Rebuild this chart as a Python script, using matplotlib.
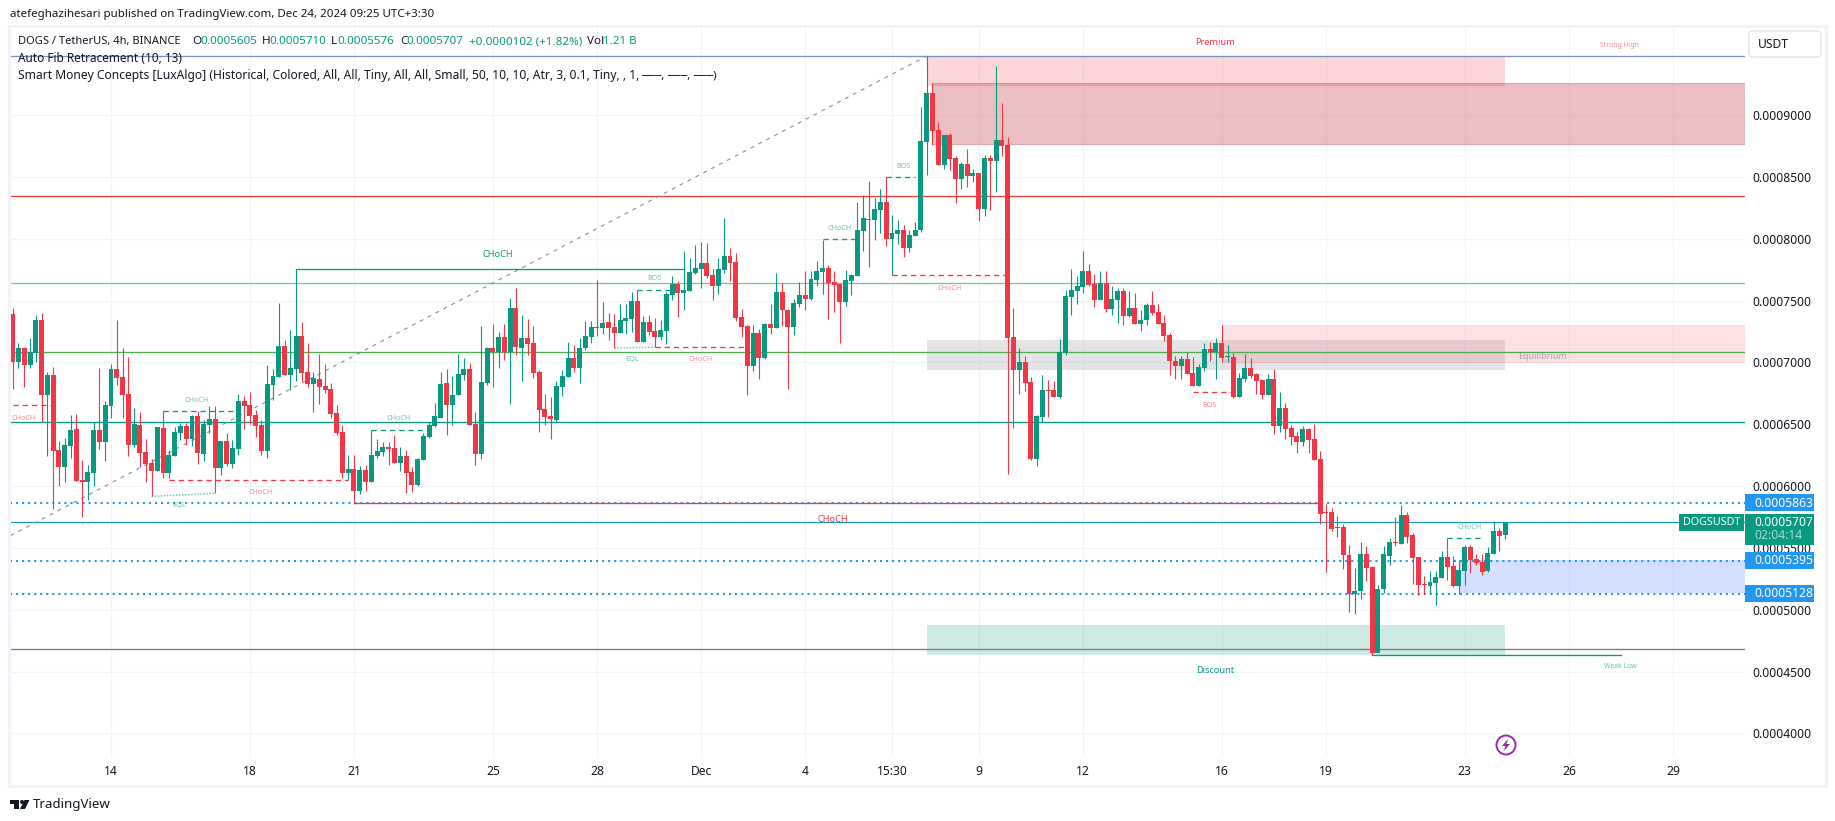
import matplotlib
matplotlib.use('Agg')
import matplotlib.pyplot as plt
from matplotlib.patches import Rectangle, Circle, FancyBboxPatch, Polygon
import numpy as np

plt.rcParams['font.family'] = ['Noto Sans', 'DejaVu Sans']

# candles, prices in units of 1e-7 USDT
opens = [7391,7002,7116,6979,7079,7343,6736,6898,6292,6154,
         6324,6461,6049,6033,6106,6453,6356,6647,6947,6882,
         6744,6332,6494,6276,6187,6122,6470,6106,6243,6429,
         6486,6381,6567,6259,6494,6542,6146,6364,6179,6300,
         6688,6656,6575,6494,6284,6817,6882,7133,6898,6947,
         7213,6922,6825,6866,6809,6785,6591,6437,6106,6138,
         5960,6130,6033,6243,6276,6316,6308,6187,6243,6114,
         6009,6211,6397,6486,6550,6833,6656,6737,6898,6947,
         6502,6260,6834,7117,7084,7206,7084,7440,7117,7197,
         7157,6923,6623,6567,6534,6801,6882,7036,6955,7117,
         7206,7286,7278,7327,7286,7238,7335,7351,7497,7165,
         7327,7254,7206,7254,7545,7634,7561,7577,7723,7755,
         7804,7707,7618,7747,7860,7812,7367,7294,6971,7238,
         7036,7311,7278,7569,7424,7286,7472,7545,7513,7666,
         7731,7763,7650,7634,7488,7658,7699,8063,8160,8151,
         8232,8296,7997,8037,8070,7924,8021,8070,8781,9177,
         8878,8595,8838,8652,8482,8603,8506,8531,8240,8652,
         8628,8798,8757,7205,6938,7003,6841,6218,6558,6776,
         6776,6720,7075,7528,7577,7609,7738,7633,7504,7641,
         7431,7504,7577,7375,7439,7310,7342,7463,7407,7318,
         7221,7011,6970,7027,6914,6809,6955,7109,7084,7157,
         7044,7044,6721,6866,6955,6907,6858,6737,6866,6486,
         6632,6470,6405,6357,6462,6381,6219,5790,5790,5661,
         5669,5443,5127,5152,5451,5346,4650,5168,5435,5548,
         5532,5766,5604,5426,5208,5192,5216,5257,5426,5354,
         5192,5313,5507,5410,5386,5313,5451,5637,5605]
highs = [7442,7157,7122,7197,7383,7399,6922,6963,6364,6389,
         6575,6583,6211,6170,6518,6955,6688,6987,7343,7116,
         7044,6631,6599,6381,6219,6478,6607,6292,6478,6510,
         6510,6575,6607,6534,6647,6647,6364,6429,6373,6744,
         6728,6761,6615,6534,6979,6947,7480,7181,7262,7755,
         7327,7157,6922,7068,6987,6833,6656,6494,6251,6251,
         6162,6170,6453,6381,6356,6356,6413,6316,6292,6154,
         6227,6429,6518,6672,6922,6947,6890,7068,7036,6995,
         6599,7294,7125,7311,7246,7311,7521,7602,7383,7351,
         7294,6939,6745,6720,6850,6939,7165,7141,7197,7335,
         7335,7666,7488,7400,7391,7472,7472,7569,7586,7375,
         7383,7359,7343,7569,7699,7658,7901,7844,7949,7974,
         7966,7755,7844,8168,7925,7885,7432,7303,7303,7270,
         7319,7472,7723,7642,7432,7513,7650,7739,7739,7820,
         7990,7788,7739,7634,7747,7715,8297,8354,8467,8329,
         8401,8498,8191,8151,8110,8070,8134,9064,9477,9258,
         8943,8838,8854,8668,8620,8725,8563,8531,8676,8676,
         9396,9097,8822,7439,7116,7051,6881,6574,6898,6857,
         6849,7189,7585,7755,7698,7900,7795,7714,7738,7738,
         7617,7601,7601,7577,7560,7423,7480,7577,7472,7383,
         7237,7051,7051,7083,7043,6986,7157,7165,7198,7303,
         7141,7076,6915,7068,7036,6915,6866,6907,6947,6761,
         6672,6494,6438,6486,6470,6502,6284,5855,5823,5758,
         5693,5523,5338,5548,5515,5354,5200,5515,5580,5750,
         5847,5790,5620,5426,5273,5313,5313,5475,5580,5435,
         5402,5523,5523,5451,5451,5507,5717,5661,5710]
lows = [6785,6957,6801,6955,7003,6518,6243,5815,6001,6033,
        6227,6041,5750,5887,6001,6300,6203,6550,6817,6550,
        6243,6316,6154,6033,5920,6122,6065,6063,6243,6373,
        6332,6324,6179,6203,6429,5944,6090,6162,6146,6251,
        6461,6502,6397,6251,6227,6696,6882,6898,6777,6850,
        6850,6801,6599,6664,6753,6550,6413,6065,6049,5860,
        5936,5960,6033,6227,6243,6170,6187,6122,5944,5952,
        6001,6211,6389,6478,6550,6413,6494,6737,6858,6494,
        6171,6219,6817,6801,6955,7020,6664,7060,6850,7060,
        6874,6437,6494,6381,6518,6728,6882,6923,6834,7100,
        7157,7214,7230,7181,7117,7238,7230,7246,7165,7165,
        7222,7125,7181,7149,7505,7367,7424,7577,7715,7602,
        7683,7505,7553,7723,7658,7335,7206,6737,6931,6866,
        7028,7230,7278,7294,6785,7222,7448,7424,7505,7618,
        7553,7351,7408,7157,7456,7545,7699,7901,7771,7990,
        8046,7940,7703,7957,7852,7892,8021,8054,8515,8757,
        8595,8563,8555,8288,8401,8417,8458,8143,8183,8232,
        8377,8668,6097,6469,6744,6768,6210,6162,6518,6558,
        6720,6712,7059,7383,7472,7560,7617,7447,7504,7407,
        7383,7318,7302,7366,7310,7253,7302,7383,7310,7172,
        6898,6865,6865,6906,6809,6809,6931,7012,6866,7004,
        7004,6713,6721,6842,6874,6745,6704,6737,6422,6438,
        6381,6333,6268,6324,6268,6211,5693,5305,5637,5588,
        5329,4982,4966,5087,5232,4634,4650,5135,5362,5515,
        5532,5540,5208,5119,5127,5127,5038,5257,5241,5184,
        5127,5200,5297,5362,5281,5305,5451,5475,5576]
closes = [7002,7116,6979,7084,7343,6736,6898,6284,6154,6332,
          6453,6041,6033,6114,6453,6356,6656,6947,6874,6736,
          6332,6502,6267,6179,6122,6478,6106,6251,6437,6486,
          6381,6567,6267,6502,6542,6146,6364,6179,6308,6688,
          6647,6567,6486,6284,6825,6890,7133,6898,6955,7213,
          6914,6825,6874,6801,6777,6583,6429,6106,6138,5960,
          6130,6033,6251,6284,6316,6300,6187,6243,6106,6009,
          6219,6405,6494,6567,6825,6656,6737,6906,6947,6494,
          6260,6842,7117,7084,7206,7084,7440,7125,7197,7149,
          6914,6615,6559,6543,6809,6890,7036,6955,7117,7214,
          7286,7278,7319,7278,7238,7343,7359,7497,7165,7327,
          7246,7206,7262,7553,7634,7561,7586,7731,7763,7804,
          7699,7618,7755,7860,7804,7359,7286,6971,7238,7036,
          7311,7278,7569,7424,7286,7480,7545,7513,7674,7739,
          7763,7642,7626,7488,7666,7707,8071,8168,8151,8240,
          8297,7997,8046,8070,7924,8029,8070,8789,9177,8870,
          8595,8838,8644,8482,8603,8506,8531,8240,8652,8628,
          8798,8749,7197,6938,7003,6833,6218,6566,6776,6768,
          6720,7083,7536,7585,7617,7738,7625,7504,7641,7431,
          7512,7577,7375,7439,7310,7342,7463,7399,7310,7213,
          7011,6970,7027,6906,6809,6962,7109,7084,7157,7036,
          7052,6721,6874,6955,6890,6850,6737,6866,6486,6632,
          6462,6397,6357,6462,6373,6211,5774,5782,5653,5669,
          5443,5127,5152,5451,5338,4650,5168,5451,5548,5540,
          5766,5588,5418,5200,5200,5224,5265,5426,5346,5192,
          5321,5507,5402,5378,5305,5459,5637,5596,5707]

# axes
x_ticks = [17, 41, 59, 83, 101, 119, 137, 152, 167, 185, 209, 227, 251, 269, 287]
x_labels = ['14', '18', '21', '25', '28', 'Dec', '4', '15:30', '9', '12', '16', '19', '23', '26', '29']
y_ticks = [4000, 4500, 5000, 5500, 6000, 6500, 7000, 7500, 8000, 8500, 9000]

# horizontal levels across the whole chart
level_prices = [9477, 8345, 7639, 7081, 6515, 4680]
dotted_levels = [5863, 5395, 5128]
last_price = 5707

# zones, first/last bar (None = runs to the right edge) and top/bottom price
zone_bars = [(158, 258), (159, None), (158, 258), (209, None), (250, None), (158, 258)]
zone_prices = [(9477, 9238), (9256, 8763), (7181, 6939), (7302, 7006), (5402, 5133), (4877, 4634)]

fib_bars = [-0.4, 158]
fib_prices = [5599, 9477]

# structure lines: first bar, last bar, price
green_solid = [(49, 116, 7758), (235, 278, 4634)]
red_solid = [(59, 226, 5861)]
green_dashed = [(26, 39, 6604), (62, 72, 6451), (108, 114, 7583), (140, 146, 7995),
                (151, 156, 8498), (248, 254, 5577)]
red_dashed = [(0, 7, 6653), (27, 58, 6047), (111, 127, 7122), (152, 172, 7703), (204, 211, 6758)]
# first bar, last bar, first price, last price
eql_lines = [(24, 35, 5917, 5941), (104, 111, 7117, 7122)]

# labels: bar, price, text
small_green = [(31.75, 6693, 'CHoCH'), (28.8, 5842, 'EQL'), (66.8, 6548, 'CHoCH'), (111, 7680, 'BOS'),
               (107, 7025, 'EQL'), (143, 8084, 'CHoCH'), (153.9, 8585, 'BOS'), (251.9, 5664, 'CHoCH')]
small_red = [(1.84, 6545, 'CHoCH'), (42.8, 5950, 'CHoCH'), (119, 7025, 'CHoCH'),
             (161.9, 7598, 'CHoCH'), (206.9, 6653, 'BOS')]
big_green = [(83.8, 7876, 'CHoCH'), (207.8, 4510, 'Discount')]
big_red = [(141.8, 5730, 'CHoCH'), (207.8, 9585, 'Premium')]
tiny_green = [(277.8, 4538, 'Weak Low')]
tiny_red = [(277.8, 9563, 'Strong High')]
grey_labels = [(264.4, 7045, 'Equilibrium')]

# boxes on the price scale
price_tags = [5863, 5395, 5128]

W, H = 1835, 821
U = 1e-7
GREEN = '#089981'
RED = '#f23645'
TXT = '#131722'
RIGHT = 299.45

bars = np.arange(len(closes))
o = np.array(opens) * U
h = np.array(highs) * U
l = np.array(lows) * U
c = np.array(closes) * U

fig = plt.figure(figsize=(W / 100, H / 100), dpi=100)
ax = fig.add_axes([10 / W, 1 - 757 / H, 1735 / W, 729 / H])
ax.set_xlim(-0.46, RIGHT)
ax.set_ylim(3810 * U, 9703 * U)

ax.set_xticks(x_ticks)
ax.set_xticklabels(x_labels)
ax.set_yticks([t * U for t in y_ticks])
ax.set_yticklabels(['%.7f' % (t * U) for t in y_ticks])
ax.yaxis.tick_right()
ax.tick_params(axis='both', length=0, labelsize=8.7, labelcolor=TXT)
ax.tick_params(axis='x', pad=6)
ax.tick_params(axis='y', pad=5.5)
ax.get_xticklabels()[5].set_fontweight('bold')
ax.grid(True, color='#f0f3fa', lw=0.8)
ax.set_axisbelow(True)
for s in ax.spines.values():
    s.set_visible(False)

# zones
zone_colors = ['#f23645', '#c02a35', '#787b86', '#f23645', '#2962ff', '#089981']
zone_alphas = [0.2, 0.3, 0.2, 0.15, 0.2, 0.2]
zone_edges = [0, 0.8, 0, 0.6, 0, 0]
for i in range(len(zone_bars)):
    b0, b1 = zone_bars[i]
    top, bot = zone_prices[i]
    x1 = RIGHT if b1 is None else b1
    ax.add_patch(Rectangle((b0, bot * U), x1 - b0, (top - bot) * U, facecolor=zone_colors[i],
                           alpha=zone_alphas[i], edgecolor=zone_colors[i], lw=zone_edges[i], zorder=1))

# levels
level_colors = ['#7f90c6', '#f2413a', '#81c784', '#4caf50', GREEN, '#787b86']
for p, col in zip(level_prices, level_colors):
    ax.axhline(p * U, color=col, lw=0.95, zorder=2)
for p in dotted_levels:
    ax.axhline(p * U, color='#2196f3', lw=1.5, ls=(0, (1, 1.9)), zorder=2)
ax.axhline(last_price * U, color='#1f9fd8', lw=0.8, zorder=2)
ax.axhline(last_price * U, color=GREEN, lw=0.8, ls=(0, (1, 1)), zorder=2)

ax.plot(fib_bars, [p * U for p in fib_prices], color='#8a8d97', lw=0.8, ls=(0, (3.5, 4.5)), zorder=2)

for lines, col in [(green_solid, GREEN), (red_solid, RED)]:
    for b0, b1, p in lines:
        ax.plot([b0, b1], [p * U, p * U], color=col, lw=0.95, zorder=2.5)
for lines, col in [(green_dashed, GREEN), (red_dashed, RED)]:
    for b0, b1, p in lines:
        ax.plot([b0, b1], [p * U, p * U], color=col, lw=0.95, ls=(0, (4, 3)), zorder=2.5)
for b0, b1, p0, p1 in eql_lines:
    ax.plot([b0, b1], [p0 * U, p1 * U], color=GREEN, alpha=0.55, lw=1.1, ls=(0, (1, 1)), zorder=2.5)

# candles
colors = np.where(c >= o, GREEN, RED)
ax.vlines(bars, l, h, colors=colors, lw=0.8, zorder=3)
ax.bar(bars, np.abs(c - o), bottom=np.minimum(o, c), width=0.86, color=colors, lw=0, zorder=3.1)

# smart money labels
label_groups = [(small_green, GREEN, 0.6, 5.2), (small_red, RED, 0.6, 5.2), (big_green, GREEN, 1, 6.6),
                (big_red, RED, 1, 6.6), (tiny_green, GREEN, 0.6, 4.9), (tiny_red, RED, 0.6, 4.9),
                (grey_labels, '#787b86', 0.6, 6.4)]
for group, col, a, size in label_groups:
    for b, p, s in group:
        ax.text(b, p * U, s, color=col, alpha=a, fontsize=size, ha='center', va='center', zorder=4)

# price scale tags
yt = ax.get_yaxis_transform()
scale_w = 69 / 1735
text_x = 1 + 9 / 1735
for p in price_tags:
    ax.add_patch(Rectangle((1.0, (p - 68) * U), scale_w, 137 * U, transform=yt, clip_on=False,
                           facecolor='#2196f3', lw=0, zorder=10))
    ax.text(text_x, p * U, '%.7f' % (p * U), transform=yt, color='white', fontsize=8.7,
            ha='left', va='center', zorder=11, clip_on=False)
ax.add_patch(Rectangle((1.0, 5524 * U), scale_w, 250 * U, transform=yt, clip_on=False,
                       facecolor=GREEN, lw=0, zorder=10))
ax.text(text_x, (last_price - 5) * U, '%.7f' % (last_price * U), transform=yt, color='white', fontsize=8.7,
        ha='left', va='center', zorder=11, clip_on=False)
ax.text(text_x, 5597 * U, '02:04:14', transform=yt, color='#a5dacd', fontsize=8.7,
        ha='left', va='center', zorder=11, clip_on=False)
ax.add_patch(Rectangle((1 - 66 / 1735, (last_price - 68) * U), 65 / 1735, 137 * U, transform=yt, clip_on=False,
                       facecolor=GREEN, lw=0, zorder=10))
ax.text(1 - 33 / 1735, last_price * U, 'DOGSUSDT', transform=yt, color='white', fontsize=7.8,
        ha='center', va='center', zorder=11, clip_on=False)

# everything outside the scales, in pixels
ov = fig.add_axes([0, 0, 1, 1], facecolor='none')
ov.set_xlim(0, W)
ov.set_ylim(H, 0)
ov.axis('off')

ov.add_patch(Rectangle((9, 26.5), 1817, 760, fill=False, edgecolor='#f0f3fa', lw=2.2))
ov.text(10, 15, 'atefeghazihesari published on TradingView.com, Dec 24, 2024 09:25 UTC+3:30',
        fontsize=8.3, color=TXT, va='center')

ov.text(18, 41.5, 'DOGS / TetherUS, 4h, BINANCE', fontsize=8, color=TXT, va='center')
for x, s, col in [(192, 'O', TXT), (200, '0.0005605', GREEN), (262, 'H', TXT), (269, '0.0005710', GREEN),
                  (331, 'L', TXT), (337, '0.0005576', GREEN), (400, 'C', TXT), (406, '0.0005707', GREEN),
                  (469, '+0.0000102 (+1.82%)', GREEN), (587, 'Vol', TXT), (603, '1.21 B', GREEN)]:
    ov.text(x, 41.5, s, fontsize=8.4, color=col, va='center')
ov.text(18, 58.5, 'Auto Fib Retracement (10, 13)', fontsize=8.5, color=TXT, va='center')
ov.text(18, 76, 'Smart Money Concepts [LuxAlgo] (Historical, Colored, All, All, Tiny, All, All, Small, 50, 10, 10, '
        'Atr, 3, 0.1, Tiny, , 1,', fontsize=8.7, color=TXT, va='center')
for x, s in [(641, '\u2500\u2500\u2500,'), (667, '\u2500\u2500\u2500,'), (693, '\u2500\u2500\u2500)')]:
    ov.text(x, 76, s, fontsize=8, color=TXT, va='center')

# USDT button
ov.add_patch(FancyBboxPatch((1752, 34), 66, 20, boxstyle='round,pad=3,rounding_size=4',
                            facecolor='white', edgecolor='#e0e3eb', lw=1))
ov.text(1758, 44.5, 'USDT', fontsize=8.7, color=TXT, va='center')

# lightning mark
ov.add_patch(Circle((1506, 745), 9.5, fill=False, edgecolor='#9c27b0', lw=1.4))
ov.add_patch(Polygon([(1508, 739), (1502, 746), (1505.5, 746), (1504, 751), (1510, 744), (1506.5, 744)],
                     facecolor='#9c27b0', lw=0))

# TradingView logo
ov.add_patch(Rectangle((10, 800), 9, 4, facecolor=TXT, lw=0))
ov.add_patch(Rectangle((14, 800), 5, 9, facecolor=TXT, lw=0))
ov.add_patch(Circle((22, 802), 2, facecolor=TXT, lw=0))
ov.add_patch(Polygon([(24.5, 800), (29.5, 800), (25, 809), (20, 809)], facecolor=TXT, lw=0))
ov.text(33, 804.5, 'TradingView', fontsize=9.6, color=TXT, va='center')

fig.savefig('out.png', dpi=100)
